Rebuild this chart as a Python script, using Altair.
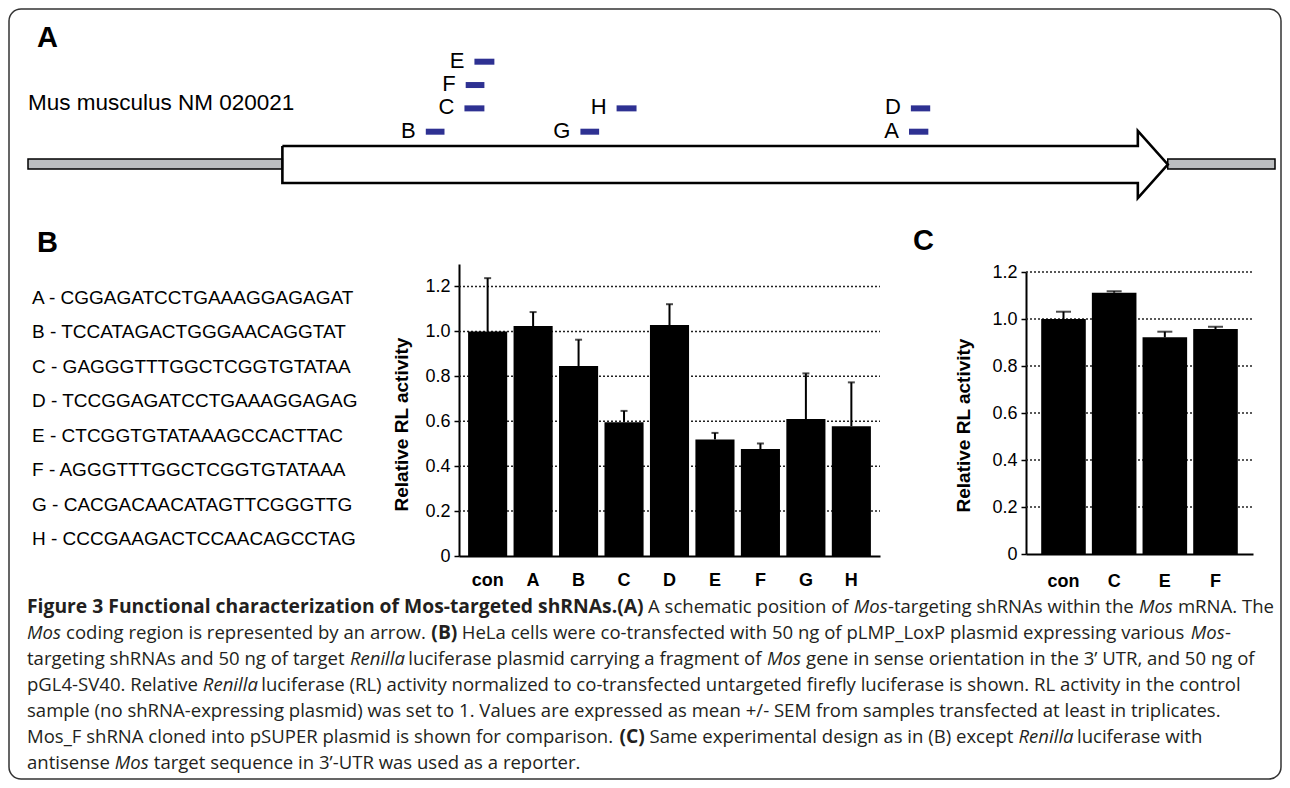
import altair as alt
import pandas as pd

W, H = 1274, 772

# ---------------- data ----------------
# Panel A: shRNA target sites along the Mos mRNA (percent of transcript length)
sh_names = ["A", "B", "C", "D", "E", "F", "G", "H"]
sh_start = [70.65, 31.9, 35.0, 70.8, 35.8, 35.1, 44.3, 47.2]
sh_end = [72.2, 33.4, 36.6, 72.35, 37.4, 36.6, 45.8, 48.8]
sh_row = [0, 0, 1, 1, 3, 2, 0, 1]
utr_start = [0.0, 91.4]
utr_end = [20.4, 100.0]
cds_start, cds_head, cds_end = 20.4, 89.0, 91.4

seq_text = ["CGGAGATCCTGAAAGGAGAGAT", "TCCATAGACTGGGAACAGGTAT",
            "GAGGGTTTGGCTCGGTGTATAA", "TCCGGAGATCCTGAAAGGAGAG",
            "CTCGGTGTATAAAGCCACTTAC", "AGGGTTTGGCTCGGTGTATAAA",
            "CACGACAACATAGTTCGGGTTG", "CCCGAAGACTCCAACAGCCTAG"]

# Panel B
b_cats = ["con", "A", "B", "C", "D", "E", "F", "G", "H"]
b_vals = [1.000, 1.024, 0.846, 0.596, 1.028, 0.519, 0.476, 0.610, 0.578]
b_sem = [0.237, 0.062, 0.117, 0.050, 0.093, 0.029, 0.025, 0.203, 0.195]

# Panel C
c_cats = ["con", "C", "E", "F"]
c_vals = [1.000, 1.112, 0.922, 0.957]
c_sem = [0.031, 0.006, 0.024, 0.010]

y_ticks = [0, 0.2, 0.4, 0.6, 0.8, 1.0, 1.2]

caption = [
    [("b", "Figure 3 Functional characterization of Mos-targeted shRNAs.(A)"), ("r", " A schematic position of "),
     ("i", "Mos"), ("r", "-targeting shRNAs within the "), ("i", "Mos"), ("r", " mRNA. The")],
    [("i", "Mos"), ("r", " coding region is represented by an arrow. "), ("b", "(B)"),
     ("r", " HeLa cells were co-transfected with 50 ng of pLMP_LoxP plasmid expressing various "), ("i", "Mos"), ("r", "-")],
    [("r", "targeting shRNAs and 50 ng of target "), ("i", "Renilla"), ("r", " luciferase plasmid carrying a fragment of "),
     ("i", "Mos"), ("r", " gene in sense orientation in the 3\u2019 UTR, and 50 ng of")],
    [("r", "pGL4-SV40. Relative "), ("i", "Renilla"),
     ("r", " luciferase (RL) activity normalized to co-transfected untargeted firefly luciferase is shown. RL activity in the control")],
    [("r", "sample (no shRNA-expressing plasmid) was set to 1. Values are expressed as mean +/- SEM from samples transfected at least in triplicates.")],
    [("r", "Mos_F shRNA cloned into pSUPER plasmid is shown for comparison. "), ("b", "(C)"),
     ("r", " Same experimental design as in (B) except "), ("i", "Renilla"), ("r", " luciferase with")],
    [("r", "antisense "), ("i", "Mos"), ("r", " target sequence in 3\u2019-UTR was used as a reporter.")],
]

# ---------------- text measuring (approx. Open Sans advance widths, 2048 upm) ----------------
OS = {' ': 532, '(': 606, ')': 606, '+': 1169, ',': 502, '-': 659, '.': 545, '/': 752, '_': 922,
      '\u2019': 502, "'": 467}
for d in "0123456789":
    OS[d] = 1171
OS.update({'a': 1139, 'b': 1255, 'c': 975, 'd': 1255, 'e': 1149, 'f': 694, 'g': 1122, 'h': 1257,
           'i': 518, 'j': 518, 'k': 1075, 'l': 518, 'm': 1905, 'n': 1257, 'o': 1237, 'p': 1255,
           'q': 1255, 'r': 836, 's': 977, 't': 723, 'u': 1257, 'v': 1026, 'w': 1593, 'x': 1073,
           'y': 1028, 'z': 977,
           'A': 1296, 'B': 1327, 'C': 1292, 'D': 1493, 'E': 1139, 'F': 1057, 'G': 1491, 'H': 1511,
           'I': 571, 'J': 547, 'K': 1257, 'L': 1073, 'M': 1849, 'N': 1544, 'O': 1595, 'P': 1233,
           'Q': 1595, 'R': 1266, 'S': 1098, 'T': 1124, 'U': 1511, 'V': 1212, 'W': 1876, 'X': 1202,
           'Y': 1141, 'Z': 1169})
STYLE_F = {"r": 1.0, "b": 1.07, "i": 0.93}


def em(s, st):
    return sum(OS.get(ch, 1150) for ch in s) / 2048.0 * STYLE_F[st]


CAP_X0 = 19
CAP_SIZE = (1214 - CAP_X0) / em(caption[4][0][1], "r")
BOLD_SIZE = CAP_SIZE * 1.04
CAP_Y0, CAP_DY = 599, 26
PIN = {(0, 1): 640}   # start of "A schematic ..." on the first caption line

rows = []
for li, line in enumerate(caption):
    cur = CAP_X0
    for si, (st, seg) in enumerate(line):
        size = BOLD_SIZE if st == "b" else CAP_SIZE
        s = seg.lstrip(" ")
        lead = em(seg[:len(seg) - len(s)], st) * size
        if (li, si) in PIN:
            cur = PIN[(li, si)] - lead
        if s.strip():
            rows.append({"st": st, "t": s.rstrip(" "), "x": cur + lead, "y": CAP_Y0 + CAP_DY * li})
        cur += em(seg, st) * size
cap_df = pd.DataFrame(rows)

# ---------------- scales ----------------
tx = alt.Scale(domain=[0, 100], range=[20, 1267], nice=False, zero=False)
row_scale = alt.Scale(domain=[0, 3], range=[123.7, 53.7], nice=False, zero=False)
seq_scale = alt.Scale(domain=[0, 7], range=[290, 531], nice=False, zero=False)

B_X0, B_X1, B_Y0, B_Y1 = 451, 872, 548, 256
C_X0, C_X1, C_Y0, C_Y1 = 1018, 1245, 546, 264
xb = alt.Scale(domain=b_cats, range=[B_X0, B_X1], paddingInner=0.14, paddingOuter=0.2)
yb = alt.Scale(domain=[0, 1.3], range=[B_Y0, B_Y1], nice=False, zero=True)
xc = alt.Scale(domain=c_cats, range=[C_X0, C_X1], paddingInner=0.12, paddingOuter=0.3)
yc = alt.Scale(domain=[0, 1.2], range=[C_Y0, C_Y1], nice=False, zero=True)

FONT = "Liberation Sans"
LBL = "datum.value == 0 ? '0' : format(datum.value, '.1f')"


def y_axis(offset, tx_, ty_):
    return alt.Axis(orient="left", offset=offset, values=y_ticks, labelExpr=LBL, labelFont=FONT,
                    labelFontSize=18, labelColor="black", labelPadding=4, tickSize=5, tickColor="black",
                    tickWidth=1.5, domainColor="black", domainWidth=2, grid=False,
                    title="Relative RL activity", titleFont=FONT, titleFontSize=19, titleFontWeight="bold",
                    titleColor="black", titleX=tx_, titleY=ty_, titleAngle=270, titleBaseline="middle",
                    titleAlign="center")


def x_axis(offset, pad):
    return alt.Axis(orient="bottom", offset=offset, labelAngle=0, labelFont=FONT, labelFontSize=18,
                    labelFontWeight="bold", labelColor="black", labelPadding=pad, ticks=False, tickSize=0,
                    domainColor="black", domainWidth=2, grid=False, title="")


one = pd.DataFrame({"k": [0]})

# ---------------- frame ----------------
frame = alt.Chart(one).mark_rect(fill="white", fillOpacity=0, stroke="#333333", strokeWidth=1.5,
                                 cornerRadius=12).encode(
    x=alt.value(1), x2=alt.value(W - 1), y=alt.value(1), y2=alt.value(H - 1))

# ---------------- panel A ----------------
utr_df = pd.DataFrame({"s": utr_start, "e": utr_end})
utr = alt.Chart(utr_df).mark_rect(fill="#bcbec0", stroke="black", strokeWidth=1.5).encode(
    x=alt.X("s:Q", scale=tx, axis=None), x2=alt.X2("e:Q"), y=alt.value(151), y2=alt.value(161))

arrow_df = pd.DataFrame({
    "o": list(range(8)),
    "px": [cds_start, cds_head, cds_head, cds_end, cds_head, cds_head, cds_start, cds_start],
    "py": [138, 138, 123, 156.5, 190, 175, 175, 138]})
arrow = alt.Chart(arrow_df).mark_line(color="black", strokeWidth=2.6, strokeJoin="miter").encode(
    x=alt.X("px:Q", scale=tx, axis=None), y=alt.Y("py:Q", scale=None, axis=None), order="o:Q")

sh_df = pd.DataFrame({"name": sh_names, "s": sh_start, "e": sh_end, "row": sh_row})
sh_bars = alt.Chart(sh_df).mark_rule(color="#2e3192", strokeWidth=6).encode(
    x=alt.X("s:Q", scale=tx, axis=None), x2=alt.X2("e:Q"), y=alt.Y("row:Q", scale=row_scale, axis=None))
sh_lbl = alt.Chart(sh_df).mark_text(align="right", baseline="alphabetic", dx=-10, dy=6, fontSize=22,
                                    font=FONT, color="black").encode(
    x=alt.X("s:Q", scale=tx, axis=None), y=alt.Y("row:Q", scale=row_scale, axis=None), text="name:N")

mus = alt.Chart(one).mark_text(align="left", baseline="middle", fontSize=22.5, font=FONT, color="black",
                               text="Mus musculus NM 020021").encode(x=alt.value(20), y=alt.value(95))

panel_df = pd.DataFrame({"t": ["A", "B", "C"], "x": [29, 29, 905], "y": [30, 234.5, 233]})
panel_lbl = alt.Chart(panel_df).mark_text(align="left", baseline="middle", fontSize=29, fontWeight="bold",
                                          font=FONT, color="black").encode(
    x=alt.X("x:Q", scale=None, axis=None), y=alt.Y("y:Q", scale=None, axis=None), text="t:N")

# ---------------- panel B: sequences ----------------
seq_df = pd.DataFrame({"i": list(range(8)),
                       "t": [f"{n} - {s}" for n, s in zip(sh_names, seq_text)]})
seqs = alt.Chart(seq_df).mark_text(align="left", baseline="middle", fontSize=19, font=FONT,
                                   color="black").encode(
    x=alt.value(24), y=alt.Y("i:Q", scale=seq_scale, axis=None), text="t:N")

# ---------------- panel B: bars ----------------
bdf = pd.DataFrame({"cat": b_cats, "val": b_vals, "sem": b_sem})
bdf["hi"] = bdf["val"] + bdf["sem"]
grid_df = pd.DataFrame({"v": y_ticks[1:]})

grid_b = alt.Chart(grid_df).mark_rule(color="#222222", strokeWidth=1.5, strokeDash=[2, 2]).encode(
    y=alt.Y("v:Q", scale=yb, axis=None), x=alt.value(B_X0), x2=alt.value(B_X1))
bars_b = alt.Chart(bdf).mark_bar(color="black").encode(
    x=alt.X("cat:N", sort=b_cats, scale=xb, axis=x_axis(B_Y0 - H, 15)),
    y=alt.Y("val:Q", scale=yb, axis=y_axis(-B_X0, -58, 416)))
err_b = alt.Chart(bdf).mark_rule(color="black", strokeWidth=2).encode(
    x=alt.X("cat:N", sort=b_cats, scale=xb, axis=None),
    y=alt.Y("val:Q", scale=yb, axis=None), y2=alt.Y2("hi:Q"))
cap_b = alt.Chart(bdf).mark_tick(color="black", thickness=2, size=7, orient="horizontal").encode(
    x=alt.X("cat:N", sort=b_cats, scale=xb, axis=None),
    y=alt.Y("hi:Q", scale=yb, axis=None))

# ---------------- panel C: bars ----------------
cdf = pd.DataFrame({"cat": c_cats, "val": c_vals, "sem": c_sem})
cdf["hi"] = cdf["val"] + cdf["sem"]
grid_c = alt.Chart(grid_df).mark_rule(color="#222222", strokeWidth=1.5, strokeDash=[2, 2]).encode(
    y=alt.Y("v:Q", scale=yc, axis=None), x=alt.value(C_X0), x2=alt.value(C_X1))
bars_c = alt.Chart(cdf).mark_bar(color="black").encode(
    x=alt.X("cat:N", sort=c_cats, scale=xc, axis=x_axis(C_Y0 - H, 18)),
    y=alt.Y("val:Q", scale=yc, axis=y_axis(-C_X0, -63, 417)))
err_c = alt.Chart(cdf).mark_rule(color="black", strokeWidth=2).encode(
    x=alt.X("cat:N", sort=c_cats, scale=xc, axis=None),
    y=alt.Y("val:Q", scale=yc, axis=None), y2=alt.Y2("hi:Q"))
cap_c = alt.Chart(cdf).mark_tick(color="black", thickness=2, size=15, orient="horizontal").encode(
    x=alt.X("cat:N", sort=c_cats, scale=xc, axis=None),
    y=alt.Y("hi:Q", scale=yc, axis=None))

# ---------------- caption ----------------
def cap_layer(st, size, **kw):
    return alt.Chart(cap_df[cap_df["st"] == st]).mark_text(
        align="left", baseline="middle", font="Open Sans", fontSize=size, color="#231f20", **kw).encode(
        x=alt.X("x:Q", scale=None, axis=None), y=alt.Y("y:Q", scale=None, axis=None), text="t:N")


cap_r = cap_layer("r", CAP_SIZE)
cap_bd = cap_layer("b", BOLD_SIZE, fontWeight="bold")
cap_it = cap_layer("i", CAP_SIZE, fontStyle="italic")

chart = alt.layer(
    frame, utr, arrow, sh_bars, sh_lbl, mus, panel_lbl, seqs,
    grid_b, bars_b, err_b, cap_b,
    grid_c, bars_c, err_c, cap_c,
    cap_r, cap_bd, cap_it,
).resolve_scale(x="independent", y="independent").properties(
    width=W, height=H, padding=0, autosize=alt.AutoSizeParams(type="none"),
    background="white",
).configure_view(strokeWidth=0)

chart.save("out.html", embed_options={"renderer": "svg", "actions": False})
